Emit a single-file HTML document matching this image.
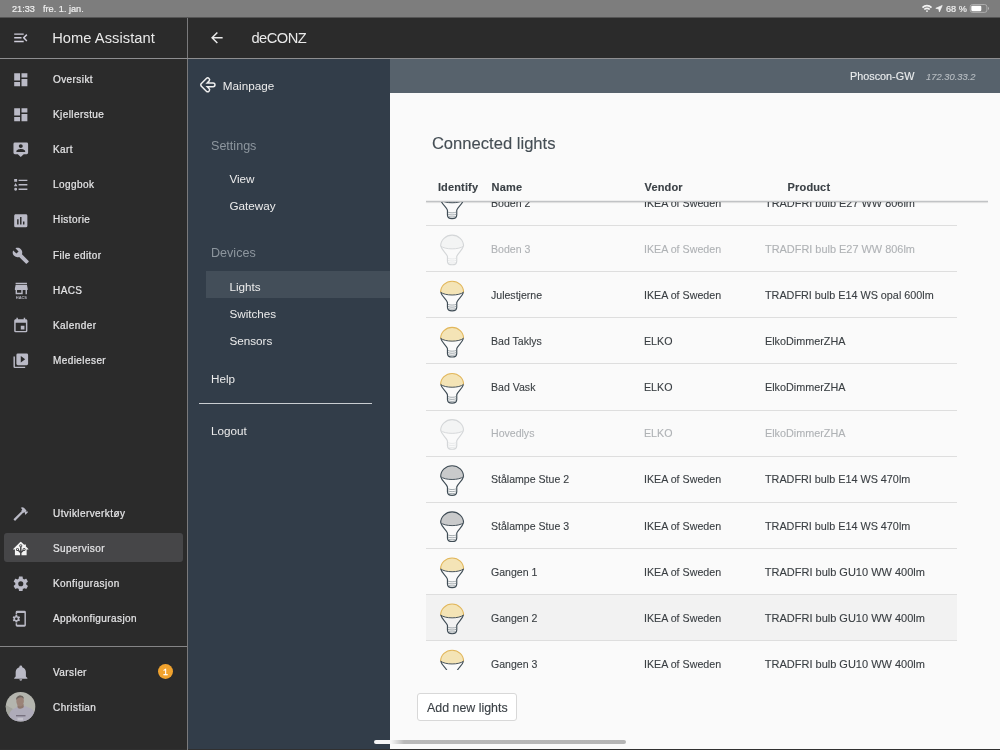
<!DOCTYPE html>
<html lang="nb">
<head>
<meta charset="utf-8">
<title>deCONZ – Home Assistant</title>
<style>
*{box-sizing:border-box;margin:0;padding:0}
html,body{width:1000px;height:750px;overflow:hidden;background:#2b2b2b}
body{font-family:"Liberation Sans",sans-serif;position:relative;-webkit-font-smoothing:antialiased}
.abs{position:absolute}
.t{position:absolute;white-space:nowrap;line-height:1;transform-origin:0 50%;display:inline-block}
#status{left:0;top:0;width:1000px;height:18px;background:linear-gradient(#7d7d7d 0,#7d7d7d 17px,#545454 17px,#545454 18px)}
#status .t{color:#f0f0f0;font-size:9.5px;transform:scaleX(0.965);margin-top:-0.1px;-webkit-text-stroke:0.2px #f0f0f0}
#sidebar{left:0;top:17.5px;width:187px;height:732.5px;background:#2b2b2b}
#vline{left:187px;top:17.5px;width:1px;height:732.5px;background:#7a7a7c}
#hdr{left:188px;top:17.5px;width:812px;height:40.6px;background:#2b2b2b}
#hline{left:0;top:58px;width:1000px;height:1px;background:#8e8e90}
.sb .t{color:#e4e4e6;font-size:10px;left:53px;-webkit-text-stroke:0.22px #e4e4e6;letter-spacing:0.42px;margin-top:1.1px}
.ic{position:absolute;width:17.57px;height:17.57px;left:11.6px;margin-top:0.6px;fill:#babac6}
#sel{left:4.2px;top:533.3px;width:178.8px;height:28.8px;border-radius:3px;background:#464648}
#sdiv{left:0;top:646px;width:187px;height:1px;background:#858587}
#nav{left:188px;top:59px;width:202.3px;height:691px;background:#323d49}
.nv .t{color:#ececec;font-size:11.7px}
.nv .t.h{color:#8d969e;font-size:13.3px}
#navsel{left:205.9px;top:271.1px;width:184.4px;height:26.5px;background:#434e59}
#navline{left:199px;top:402.8px;width:173.2px;height:1px;background:#c9cdd1}
#top{left:390.3px;top:59px;width:609.7px;height:34px;background:#57626c}
#content{left:390.3px;top:93px;width:609.7px;height:657px;background:#fafafa}

.ct .t{color:#3a3f43;font-size:11px;-webkit-text-stroke:0.12px currentColor}
.ct .t.dis{color:#afb2b5}
.row{position:absolute;left:425.6px;width:531.5px;height:1px;background:#dedede}
.bulb{position:absolute;left:439px;width:26px;height:34px;overflow:visible}
#clip{position:absolute;left:390.3px;top:202px;width:609.7px;height:467.6px;overflow:hidden}
#clip>div{position:absolute;left:-390.3px;top:-202px;width:1000px;height:750px}
#thline{left:425.6px;top:201px;width:562.8px;height:1px;background:#c1c3c5;box-shadow:0 1px 1px rgba(0,0,0,.13),0 -1px 0 rgba(0,0,0,.05)}
#btn{left:417.4px;top:693px;width:99.4px;height:28.4px;border:1px solid #d8d8d8;border-radius:3px;background:#fff}
#homebar{left:373.5px;top:740.4px;width:252.6px;height:3.9px;border-radius:2px;background:linear-gradient(90deg,#f6f6f6 0,#f6f6f6 17px,#b9b9b9 30px,#b5b5b5 100%)}
#botline{left:0;top:748.7px;width:1000px;height:1.3px;background:#303030}
</style>
</head>
<body>
<div id="status" class="abs">
  <span class="t" style="left:12px;top:3.7px">21:33</span>
  <span class="t" style="left:43px;top:3.7px">fre. 1. jan.</span>
  <span class="t" style="left:945.8px;top:3.7px">68 %</span>
<svg class="abs" style="left:915px;top:0;width:85px;height:17.5px" viewBox="915 0 85 17.5">
<g fill="none" stroke="#f2f2f2" stroke-linecap="butt">
<path d="M922.500,7.600A6.300,6.300 0 0,1 931.500,7.600" stroke-width="1.700"/>
<path d="M924.300,9.500A3.800,3.800 0 0,1 929.700,9.500" stroke-width="1.600"/>
</g>
<circle cx="927" cy="11.100" r="0.950" fill="#f2f2f2"/>
<path d="M942.200,5.500L935.800,8.300L938.800,8.900L939.400,11.900Z" fill="#f2f2f2" stroke="#f2f2f2" stroke-width="0.700" stroke-linejoin="round"/>
<rect x="970.200" y="4.500" width="16.700" height="7.900" rx="2.300" fill="none" stroke="#b9b9b9" stroke-width="0.800"/>
<rect x="971.300" y="5.700" width="10" height="5.500" rx="1.100" fill="#ffffff"/>
<path d="M988,7.100C989.300,7.500 989.300,9.600 988,10Z" fill="#b9b9b9"/>
</svg>
</div>
<div id="sidebar" class="abs"></div>
<div class="sb">
<div id="sel" class="abs"></div>
<div id="sdiv" class="abs"></div>
<svg class="ic" style="top:28.8px;fill:#d0cedb" viewBox="0 0 24 24"><path d="M21,15.61L19.59,17L14.58,12L19.59,7L21,8.39L17.44,12L21,15.61M3,6H16V8H3V6M3,13V11H13V13H3M3,18V16H16V18H3Z"/></svg>
<span class="t" id="hatitle" style="left:52.2px;top:29.9px;font-size:14.7px;-webkit-text-stroke:0;letter-spacing:0.04px;color:#e9e9e9">Home Assistant</span>
<svg class="ic" style="top:70.42px" viewBox="0 0 24 24"><path d="M13,3V9H21V3M13,21H21V11H13M3,21H11V15H3M3,13H11V3H3V13Z"/></svg>
<span class="t" style="top:73.90px">Oversikt</span>
<svg class="ic" style="top:105.52px" viewBox="0 0 24 24"><path d="M13,3V9H21V3M13,21H21V11H13M3,21H11V15H3M3,13H11V3H3V13Z"/></svg>
<span class="t" style="top:109.00px">Kjellerstue</span>
<svg class="ic" style="top:140.72px" viewBox="0 0 24 24"><path d="M20,2H4A2,2 0 0,0 2,4V16A2,2 0 0,0 4,18H8L12,22L16,18H20A2,2 0 0,0 22,16V4A2,2 0 0,0 20,2M12,4.3C13.5,4.3 14.7,5.5 14.7,7C14.7,8.5 13.5,9.7 12,9.7C10.5,9.7 9.3,8.5 9.3,7C9.3,5.5 10.5,4.3 12,4.3M18,15H6V14.1C6,12.1 10,11 12,11C14,11 18,12.1 18,14.1V15Z"/></svg>
<span class="t" style="top:144.20px">Kart</span>
<svg class="ic" style="top:175.82px" viewBox="0 0 24 24"><path d="M5,9.5L7.5,14H2.5L5,9.5M3,4H7V8H3V4M5,20A2,2 0 0,0 7,18A2,2 0 0,0 5,16A2,2 0 0,0 3,18A2,2 0 0,0 5,20M9,5V7H21V5H9M9,19H21V17H9V19M9,13H21V11H9V13Z"/></svg>
<span class="t" style="top:179.30px">Loggbok</span>
<svg class="ic" style="top:210.92px" viewBox="0 0 24 24"><path d="M17,17H15V13H17M13,17H11V7H13M9,17H7V10H9M19,3H5C3.89,3 3,3.89 3,5V19A2,2 0 0,0 5,21H19A2,2 0 0,0 21,19V5C21,3.89 20.1,3 19,3Z"/></svg>
<span class="t" style="top:214.40px">Historie</span>
<svg class="ic" style="top:246.12px" viewBox="0 0 24 24"><path d="M22.7,19L13.6,9.9C14.5,7.6 14,4.9 12.1,3C10.1,1 7.1,0.6 4.7,1.7L9,6L6,9L1.6,4.7C0.4,7.1 0.9,10.1 2.9,12.1C4.8,14 7.5,14.5 9.8,13.6L18.9,22.7C19.3,23.1 19.9,23.1 20.3,22.7L22.6,20.4C23.1,20 23.1,19.3 22.7,19Z"/></svg>
<span class="t" style="top:249.60px">File editor</span>
<svg class="ic" style="top:281.22px" viewBox="0 0 24 24"><g transform="translate(1.050,-2.800) scale(0.970)"><path d="M12,18H6V14H12M21,14V12L20,7H4L3,12V14H4V20H14V14H18V20H20V14M20,4H4V6H20V4Z"/></g><text x="12.850" y="22.900" text-anchor="middle" font-family="Liberation Sans, sans-serif" font-weight="bold" font-size="5.400" textLength="15.400" lengthAdjust="spacingAndGlyphs">HACS</text></svg>
<span class="t" style="top:284.70px">HACS</span>
<svg class="ic" style="top:316.32px" viewBox="0 0 24 24"><path d="M19,19H5V8H19M16,1V3H8V1H6V3H5C3.89,3 3,3.89 3,5V19A2,2 0 0,0 5,21H19A2,2 0 0,0 21,19V5C21,3.89 20.1,3 19,3H18V1M17,12H12V17H17V12Z"/></svg>
<span class="t" style="top:319.80px">Kalender</span>
<svg class="ic" style="top:351.52px" viewBox="0 0 24 24"><path d="M4,6H2V20A2,2 0 0,0 4,22H18V20H4V6M20,2H8A2,2 0 0,0 6,4V16A2,2 0 0,0 8,18H20A2,2 0 0,0 22,16V4A2,2 0 0,0 20,2M12,14.5V5.5L18,10L12,14.5Z"/></svg>
<span class="t" style="top:355.00px">Medieleser</span>
<svg class="ic" style="top:504.12px" viewBox="0 0 24 24"><path d="M2,19.63L13.43,8.2L12.72,7.5L14.14,6.07L12,3.89C13.2,2.7 15.09,2.7 16.27,3.89L19.87,7.5L18.45,8.91H21.29L22,9.62L18.45,13.21L17.74,12.5V9.62L16.27,11.04L15.56,10.33L4.13,21.76L2,19.63Z"/></svg>
<span class="t" style="top:507.60px">Utviklerverktøy</span>
<svg class="ic" style="top:539.22px;fill:#f4f4f4" viewBox="0 0 24 24"><path d="M21.8,13H20V21H13V17.67L15.79,14.88L16.5,15C17.66,15 18.6,14.06 18.6,12.9C18.6,11.74 17.66,10.8 16.5,10.8A2.1,2.1 0 0,0 14.4,12.9L14.5,13.61L13,15.13V9.65C13.66,9.29 14.1,8.6 14.1,7.8A2.1,2.1 0 0,0 12,5.7A2.1,2.1 0 0,0 9.9,7.8C9.9,8.6 10.34,9.29 11,9.65V15.13L9.5,13.61L9.6,12.9A2.1,2.1 0 0,0 7.5,10.8A2.1,2.1 0 0,0 5.4,12.9A2.1,2.1 0 0,0 7.5,15L8.21,14.88L11,17.67V21H4V13H2.25C1.83,13 1.42,13 1.42,12.79C1.43,12.57 1.85,12.15 2.28,11.72L11,3C11.33,2.67 11.67,2.33 12,2.33C12.33,2.33 12.67,2.67 13,3L17,7V6H19V9L21.78,11.78C22.18,12.18 22.59,12.59 22.6,12.8C22.6,13 22.2,13 21.8,13M7.5,12A0.9,0.9 0 0,1 8.4,12.9A0.9,0.9 0 0,1 7.5,13.8A0.9,0.9 0 0,1 6.6,12.9A0.9,0.9 0 0,1 7.5,12M16.5,12C17,12 17.4,12.4 17.4,12.9C17.4,13.4 17,13.8 16.5,13.8A0.9,0.9 0 0,1 15.6,12.9A0.9,0.9 0 0,1 16.5,12M12,6.9C12.5,6.9 12.9,7.3 12.9,7.8C12.9,8.3 12.5,8.7 12,8.7C11.5,8.7 11.1,8.3 11.1,7.8C11.1,7.3 11.5,6.9 12,6.9Z"/></svg>
<span class="t" style="top:542.70px">Supervisor</span>
<svg class="ic" style="top:574.32px" viewBox="0 0 24 24"><path d="M12,15.5A3.5,3.5 0 0,1 8.5,12A3.5,3.5 0 0,1 12,8.5A3.5,3.5 0 0,1 15.5,12A3.5,3.5 0 0,1 12,15.5M19.43,12.97C19.47,12.65 19.5,12.33 19.5,12C19.5,11.67 19.47,11.34 19.43,11L21.54,9.37C21.73,9.22 21.78,8.95 21.66,8.73L19.66,5.27C19.54,5.05 19.27,4.96 19.05,5.05L16.56,6.05C16.04,5.66 15.5,5.32 14.87,5.07L14.5,2.42C14.46,2.18 14.25,2 14,2H10C9.75,2 9.54,2.18 9.5,2.42L9.13,5.07C8.5,5.32 7.96,5.66 7.44,6.05L4.95,5.05C4.73,4.96 4.46,5.05 4.34,5.27L2.34,8.73C2.21,8.95 2.27,9.22 2.46,9.37L4.57,11C4.53,11.34 4.5,11.67 4.5,12C4.5,12.33 4.53,12.65 4.57,12.97L2.46,14.63C2.27,14.78 2.21,15.05 2.34,15.27L4.34,18.73C4.46,18.95 4.73,19.03 4.95,18.95L7.44,17.94C7.96,18.34 8.5,18.68 9.13,18.93L9.5,21.58C9.54,21.82 9.75,22 10,22H14C14.25,22 14.46,21.82 14.5,21.58L14.87,18.93C15.5,18.67 16.04,18.34 16.56,17.94L19.05,18.95C19.27,19.03 19.54,18.95 19.66,18.73L21.66,15.27C21.78,15.05 21.73,14.78 21.54,14.63L19.43,12.97Z"/></svg>
<span class="t" style="top:577.80px">Konfigurasjon</span>
<svg class="ic" style="top:609.52px" viewBox="0 0 24 24"><path d="M9.82,12.5C9.84,12.33 9.86,12.17 9.86,12C9.86,11.83 9.84,11.67 9.82,11.5L10.9,10.69C11,10.62 11,10.5 10.96,10.37L9.93,8.64C9.87,8.53 9.73,8.5 9.62,8.53L8.34,9.03C8.07,8.83 7.78,8.67 7.47,8.54L7.27,7.21C7.27,7.09 7.16,7 7.03,7H5C4.85,7 4.74,7.09 4.72,7.21L4.5,8.53C4.21,8.65 3.92,8.83 3.65,9L2.37,8.5C2.25,8.47 2.12,8.5 2.06,8.63L1.03,10.36C0.97,10.5 1,10.61 1.1,10.69L2.18,11.5C2.16,11.67 2.15,11.84 2.15,12C2.15,12.17 2.17,12.33 2.19,12.5L1.1,13.32C1,13.39 1,13.53 1.04,13.64L2.07,15.37C2.13,15.5 2.27,15.5 2.38,15.5L3.66,14.97C3.93,15.18 4.22,15.34 4.53,15.47L4.73,16.79C4.75,16.91 4.86,17 5,17H7.04C7.17,17 7.28,16.91 7.3,16.79L7.5,15.47C7.8,15.35 8.09,15.17 8.35,14.97L9.62,15.5C9.73,15.5 9.87,15.5 9.93,15.37L10.96,13.64C11,13.53 11,13.4 10.9,13.32L9.82,12.5M6,13.75C5,13.75 4.2,12.97 4.2,12C4.2,11.03 5,10.25 6,10.25C7,10.25 7.8,11.03 7.8,12C7.8,12.97 7,13.75 6,13.75M17,1H7A2,2 0 0,0 5,3V6H7V4H17V20H7V18H5V21A2,2 0 0,0 7,23H17A2,2 0 0,0 19,21V3A2,2 0 0,0 17,1Z"/></svg>
<span class="t" style="top:613.00px">Appkonfigurasjon</span>
<svg class="ic" style="top:663.12px" viewBox="0 0 24 24"><path d="M21,19V20H3V19L5,17V11C5,7.9 7.03,5.17 10,4.29C10,4.19 10,4.1 10,4A2,2 0 0,1 12,2A2,2 0 0,1 14,4C14,4.1 14,4.19 14,4.29C16.97,5.17 19,7.9 19,11V17L21,19M14,21A2,2 0 0,1 12,23A2,2 0 0,1 10,21"/></svg>
<span class="t" style="top:666.60px">Varsler</span>
<span class="t" style="top:701.70px">Christian</span>
<div class="abs" style="left:158.1px;top:664.3px;width:14.8px;height:14.8px;border-radius:50%;background:#f0a22e"></div>
<span class="t" style="left:163.1px;top:667.4px;font-size:8.8px;color:#fff;-webkit-text-stroke:0.3px #fff;letter-spacing:0">1</span>
<svg class="abs" style="left:0;top:686px;width:40px;height:40px" viewBox="0 0 40 40"><defs><clipPath id="avc"><circle cx="20.550" cy="20.700" r="14.750"/></clipPath><filter id="avb" x="-10%" y="-10%" width="120%" height="120%"><feGaussianBlur stdDeviation="0.550"/></filter></defs><g clip-path="url(#avc)"><rect width="40" height="40" fill="#b4b5ae"/><g filter="url(#avb)"><path d="M4,18L13,23L9,30L4,28Z" fill="#a3a49d"/><path d="M8.500,40C8,30 9.500,25.500 12.500,23.500C15,22 17,21.200 18,20.500L23.500,19.500C26,20.500 30,21.500 32.500,23.500C35,26 35,32 34,40Z" fill="#aeabb9"/><path d="M17.300,19.500L17.800,22C19.500,23.300 22.500,22.800 23.800,21L23.500,18Z" fill="#8e786d"/><ellipse cx="20.100" cy="15" rx="3.800" ry="5.500" fill="#9b8378"/><path d="M16.200,14C15.500,8.500 24,7.800 24,13C22.500,10.500 18.500,10.300 16.200,14Z" fill="#6b625d"/><rect x="16" y="29" width="9.500" height="1.400" fill="#77717f"/><rect x="17.500" y="31.800" width="5.500" height="2.500" fill="#c4c2cc"/></g></g></svg>
</div>
<div id="hdr" class="abs"></div>
<svg class="ic" style="left:208.2px;top:28.7px;fill:#e9e9e9" viewBox="0 0 24 24"><path d="M20,11V13H8L13.5,18.5L12.08,19.92L4.16,12L12.08,4.08L13.5,5.5L8,11H20Z"/></svg>
<span class="t" style="left:251.5px;top:31px;font-size:14.7px;letter-spacing:-0.55px;color:#e9e9e9">deCONZ</span>
<div id="nav" class="abs">
</div>
<div class="nv" id="navitems">
<div id="navsel" class="abs"></div>
<div id="navline" class="abs"></div>
<svg class="abs" style="left:194px;top:72px;width:30px;height:26px" viewBox="194 72 30 26"><g fill="none" stroke-linecap="round" stroke-linejoin="round"><path d="M207.700,79.800L202.700,84.830L207.700,89.860M202.700,84.830H213.100" stroke="#f0f0f0" stroke-width="5.200"/><path d="M207.700,79.800L202.700,84.830L207.700,89.860M202.700,84.830H213.100" stroke="#323d49" stroke-width="2.300"/></g></svg>
<span class="t" style="left:222.8px;top:80px">Mainpage</span>
<span class="t h" style="left:211px;top:139px;transform:scaleX(0.945)">Settings</span>
<span class="t" style="left:229.4px;top:173px">View</span>
<span class="t" style="left:229.4px;top:200px">Gateway</span>
<span class="t h" style="left:211px;top:246px;transform:scaleX(0.945)">Devices</span>
<span class="t" style="left:229.4px;top:281px">Lights</span>
<span class="t" style="left:229.4px;top:308px">Switches</span>
<span class="t" style="left:229.4px;top:335px">Sensors</span>
<span class="t" style="left:211px;top:373px">Help</span>
<span class="t" style="left:211px;top:425px">Logout</span>
</div>
<div id="top" class="abs"></div>
<div id="content" class="abs"></div>
<div class="ct">
<span class="t" style="left:849.5px;top:71px;font-size:11.4px;transform:scaleX(0.95);color:#eceeef">Phoscon-GW</span>
<span class="t" style="left:926px;top:71.5px;font-size:9.4px;color:#b7bdc2;font-style:italic">172.30.33.2</span>
<span class="t" id="title" style="left:431.9px;top:135.8px;font-size:16.6px;color:#454e55">Connected lights</span>
<span class="t th" style="left:437.9px;top:181.6px;font-weight:bold;letter-spacing:0.15px;color:#3b4146">Identify</span>
<span class="t th" style="left:491.6px;top:181.6px;font-weight:bold;letter-spacing:0.15px;color:#3b4146">Name</span>
<span class="t th" style="left:644.6px;top:181.6px;font-weight:bold;letter-spacing:0.15px;color:#3b4146">Vendor</span>
<span class="t th" style="left:787.6px;top:181.6px;font-weight:bold;letter-spacing:0.15px;color:#3b4146">Product</span>
<div id="thline" class="abs"></div>
<div id="clip"><div>
<div class="row" style="top:225px"></div>
<svg class="bulb" style="top:187px;opacity:1" viewBox="0 -0.64 26 34"><path d="M1.700,12.200C2.800,16.600 7.200,19.200 8.450,22.600V27.400C8.450,29.900 10.600,31 13.100,31S17.750,29.900 17.750,27.400V22.600C19,19.200 23.400,16.600 24.500,12.200" fill="none" stroke="#3f4c55" stroke-width="1.150" stroke-linejoin="round"/><path d="M9,24.500C11.200,25.400 15,25.400 17.200,24.500M9,26.600C11.200,27.500 15,27.500 17.200,26.600M9.300,28.700C11.300,29.500 14.900,29.500 16.900,28.700" fill="none" stroke="#99a1a6" stroke-width="0.900"/><path d="M1.650,12.200A11.450,10.900 0 0,1 24.550,12.200C20.500,16.100 5.700,16.100 1.650,12.200Z" fill="#c9cacb"/><path d="M1.650,12.300A11.450,10.950 0 0,1 24.550,12.300" fill="none" stroke="#3f4c55" stroke-width="1.100"/><path d="M1.650,12.200C5.700,16.100 20.500,16.100 24.550,12.200" fill="none" stroke="#3f4c55" stroke-width="0.950"/></svg>
<span class="t" style="left:491.3px;top:198.00px;transform:scaleX(0.96)">Boden 2</span>
<span class="t" style="left:644.1px;top:198.00px;transform:scaleX(0.97)">IKEA of Sweden</span>
<span class="t" style="left:764.8px;top:198.00px;transform:scaleX(0.993)">TRADFRI bulb E27 WW 806lm</span>
<div class="row" style="top:271px"></div>
<svg class="bulb" style="top:233px;opacity:0.2" viewBox="0 -0.76 26 34"><path d="M1.700,12.200C2.800,16.600 7.200,19.200 8.450,22.600V27.400C8.450,29.900 10.600,31 13.100,31S17.750,29.900 17.750,27.400V22.600C19,19.200 23.400,16.600 24.500,12.200" fill="none" stroke="#3f4c55" stroke-width="1.150" stroke-linejoin="round"/><path d="M9,24.500C11.200,25.400 15,25.400 17.200,24.500M9,26.600C11.200,27.500 15,27.500 17.200,26.600M9.300,28.700C11.300,29.500 14.900,29.500 16.900,28.700" fill="none" stroke="#99a1a6" stroke-width="0.900"/><path d="M1.650,12.200A11.450,10.900 0 0,1 24.550,12.200C20.500,16.100 5.700,16.100 1.650,12.200Z" fill="#dcdddd"/><path d="M1.650,12.300A11.450,10.950 0 0,1 24.550,12.300" fill="none" stroke="#3f4c55" stroke-width="1.100"/><path d="M1.650,12.200C5.700,16.100 20.500,16.100 24.550,12.200" fill="none" stroke="#3f4c55" stroke-width="0.950"/></svg>
<span class="t dis" style="left:491.3px;top:244.00px;transform:scaleX(0.96)">Boden 3</span>
<span class="t dis" style="left:644.1px;top:244.00px;transform:scaleX(0.97)">IKEA of Sweden</span>
<span class="t dis" style="left:764.8px;top:244.00px;transform:scaleX(0.993)">TRADFRI bulb E27 WW 806lm</span>
<div class="row" style="top:317px"></div>
<svg class="bulb" style="top:279px;opacity:1" viewBox="0 -0.88 26 34"><path d="M1.700,12.200C2.800,16.600 7.200,19.200 8.450,22.600V27.400C8.450,29.900 10.600,31 13.100,31S17.750,29.900 17.750,27.400V22.600C19,19.200 23.400,16.600 24.500,12.200" fill="none" stroke="#3f4c55" stroke-width="1.150" stroke-linejoin="round"/><path d="M9,24.500C11.200,25.400 15,25.400 17.200,24.500M9,26.600C11.200,27.500 15,27.500 17.200,26.600M9.300,28.700C11.300,29.500 14.900,29.500 16.900,28.700" fill="none" stroke="#99a1a6" stroke-width="0.900"/><path d="M1.650,12.200A11.450,10.900 0 0,1 24.550,12.200C20.500,16.100 5.700,16.100 1.650,12.200Z" fill="#f4e4b6"/><path d="M1.650,12.300A11.450,10.950 0 0,1 24.550,12.300" fill="none" stroke="#e2b75c" stroke-width="1.100"/><path d="M1.650,12.200C5.700,16.100 20.500,16.100 24.550,12.200" fill="none" stroke="#3f4c55" stroke-width="0.950"/></svg>
<span class="t" style="left:491.3px;top:290.00px;transform:scaleX(0.96)">Julestjerne</span>
<span class="t" style="left:644.1px;top:290.00px;transform:scaleX(0.97)">IKEA of Sweden</span>
<span class="t" style="left:764.8px;top:290.00px;transform:scaleX(0.982)">TRADFRI bulb E14 WS opal 600lm</span>
<div class="row" style="top:363px"></div>
<svg class="bulb" style="top:326px;opacity:1" viewBox="0 -0.00 26 34"><path d="M1.700,12.200C2.800,16.600 7.200,19.200 8.450,22.600V27.400C8.450,29.900 10.600,31 13.100,31S17.750,29.900 17.750,27.400V22.600C19,19.200 23.400,16.600 24.500,12.200" fill="none" stroke="#3f4c55" stroke-width="1.150" stroke-linejoin="round"/><path d="M9,24.500C11.200,25.400 15,25.400 17.200,24.500M9,26.600C11.200,27.500 15,27.500 17.200,26.600M9.300,28.700C11.300,29.500 14.900,29.500 16.900,28.700" fill="none" stroke="#99a1a6" stroke-width="0.900"/><path d="M1.650,12.200A11.450,10.900 0 0,1 24.550,12.200C20.500,16.100 5.700,16.100 1.650,12.200Z" fill="#f4e4b6"/><path d="M1.650,12.300A11.450,10.950 0 0,1 24.550,12.300" fill="none" stroke="#e2b75c" stroke-width="1.100"/><path d="M1.650,12.200C5.700,16.100 20.500,16.100 24.550,12.200" fill="none" stroke="#3f4c55" stroke-width="0.950"/></svg>
<span class="t" style="left:491.3px;top:336.00px;transform:scaleX(0.96)">Bad Taklys</span>
<span class="t" style="left:644.1px;top:336.00px;transform:scaleX(0.97)">ELKO</span>
<span class="t" style="left:764.8px;top:336.00px;transform:scaleX(0.982)">ElkoDimmerZHA</span>
<div class="row" style="top:410px"></div>
<svg class="bulb" style="top:372px;opacity:1" viewBox="0 -0.12 26 34"><path d="M1.700,12.200C2.800,16.600 7.200,19.200 8.450,22.600V27.400C8.450,29.900 10.600,31 13.100,31S17.750,29.900 17.750,27.400V22.600C19,19.200 23.400,16.600 24.500,12.200" fill="none" stroke="#3f4c55" stroke-width="1.150" stroke-linejoin="round"/><path d="M9,24.500C11.200,25.400 15,25.400 17.200,24.500M9,26.600C11.200,27.500 15,27.500 17.200,26.600M9.300,28.700C11.300,29.500 14.900,29.500 16.900,28.700" fill="none" stroke="#99a1a6" stroke-width="0.900"/><path d="M1.650,12.200A11.450,10.900 0 0,1 24.550,12.200C20.500,16.100 5.700,16.100 1.650,12.200Z" fill="#f4e4b6"/><path d="M1.650,12.300A11.450,10.950 0 0,1 24.550,12.300" fill="none" stroke="#e2b75c" stroke-width="1.100"/><path d="M1.650,12.200C5.700,16.100 20.500,16.100 24.550,12.200" fill="none" stroke="#3f4c55" stroke-width="0.950"/></svg>
<span class="t" style="left:491.3px;top:382.00px;transform:scaleX(0.96)">Bad Vask</span>
<span class="t" style="left:644.1px;top:382.00px;transform:scaleX(0.97)">ELKO</span>
<span class="t" style="left:764.8px;top:382.00px;transform:scaleX(0.982)">ElkoDimmerZHA</span>
<div class="row" style="top:456px"></div>
<svg class="bulb" style="top:418px;opacity:0.2" viewBox="0 -0.24 26 34"><path d="M1.700,12.200C2.800,16.600 7.200,19.200 8.450,22.600V27.400C8.450,29.900 10.600,31 13.100,31S17.750,29.900 17.750,27.400V22.600C19,19.200 23.400,16.600 24.500,12.200" fill="none" stroke="#3f4c55" stroke-width="1.150" stroke-linejoin="round"/><path d="M9,24.500C11.200,25.400 15,25.400 17.200,24.500M9,26.600C11.200,27.500 15,27.500 17.200,26.600M9.300,28.700C11.300,29.500 14.900,29.500 16.900,28.700" fill="none" stroke="#99a1a6" stroke-width="0.900"/><path d="M1.650,12.200A11.450,10.900 0 0,1 24.550,12.200C20.500,16.100 5.700,16.100 1.650,12.200Z" fill="#dcdddd"/><path d="M1.650,12.300A11.450,10.950 0 0,1 24.550,12.300" fill="none" stroke="#3f4c55" stroke-width="1.100"/><path d="M1.650,12.200C5.700,16.100 20.500,16.100 24.550,12.200" fill="none" stroke="#3f4c55" stroke-width="0.950"/></svg>
<span class="t dis" style="left:491.3px;top:428.00px;transform:scaleX(0.96)">Hovedlys</span>
<span class="t dis" style="left:644.1px;top:428.00px;transform:scaleX(0.97)">ELKO</span>
<span class="t dis" style="left:764.8px;top:428.00px;transform:scaleX(0.982)">ElkoDimmerZHA</span>
<div class="row" style="top:502px"></div>
<svg class="bulb" style="top:464px;opacity:1" viewBox="0 -0.36 26 34"><path d="M1.700,12.200C2.800,16.600 7.200,19.200 8.450,22.600V27.400C8.450,29.900 10.600,31 13.100,31S17.750,29.900 17.750,27.400V22.600C19,19.200 23.400,16.600 24.500,12.200" fill="none" stroke="#3f4c55" stroke-width="1.150" stroke-linejoin="round"/><path d="M9,24.500C11.200,25.400 15,25.400 17.200,24.500M9,26.600C11.200,27.500 15,27.500 17.200,26.600M9.300,28.700C11.300,29.500 14.900,29.500 16.900,28.700" fill="none" stroke="#99a1a6" stroke-width="0.900"/><path d="M1.650,12.200A11.450,10.900 0 0,1 24.550,12.200C20.500,16.100 5.700,16.100 1.650,12.200Z" fill="#c9cacb"/><path d="M1.650,12.300A11.450,10.950 0 0,1 24.550,12.300" fill="none" stroke="#3f4c55" stroke-width="1.100"/><path d="M1.650,12.200C5.700,16.100 20.500,16.100 24.550,12.200" fill="none" stroke="#3f4c55" stroke-width="0.950"/></svg>
<span class="t" style="left:491.3px;top:474.00px;transform:scaleX(0.96)">Stålampe Stue 2</span>
<span class="t" style="left:644.1px;top:474.00px;transform:scaleX(0.97)">IKEA of Sweden</span>
<span class="t" style="left:764.8px;top:474.00px;transform:scaleX(0.982)">TRADFRI bulb E14 WS 470lm</span>
<div class="row" style="top:548px"></div>
<svg class="bulb" style="top:510px;opacity:1" viewBox="0 -0.48 26 34"><path d="M1.700,12.200C2.800,16.600 7.200,19.200 8.450,22.600V27.400C8.450,29.900 10.600,31 13.100,31S17.750,29.900 17.750,27.400V22.600C19,19.200 23.400,16.600 24.500,12.200" fill="none" stroke="#3f4c55" stroke-width="1.150" stroke-linejoin="round"/><path d="M9,24.500C11.200,25.400 15,25.400 17.200,24.500M9,26.600C11.200,27.500 15,27.500 17.200,26.600M9.300,28.700C11.300,29.500 14.900,29.500 16.900,28.700" fill="none" stroke="#99a1a6" stroke-width="0.900"/><path d="M1.650,12.200A11.450,10.900 0 0,1 24.550,12.200C20.500,16.100 5.700,16.100 1.650,12.200Z" fill="#c9cacb"/><path d="M1.650,12.300A11.450,10.950 0 0,1 24.550,12.300" fill="none" stroke="#3f4c55" stroke-width="1.100"/><path d="M1.650,12.200C5.700,16.100 20.500,16.100 24.550,12.200" fill="none" stroke="#3f4c55" stroke-width="0.950"/></svg>
<span class="t" style="left:491.3px;top:521.00px;transform:scaleX(0.96)">Stålampe Stue 3</span>
<span class="t" style="left:644.1px;top:521.00px;transform:scaleX(0.97)">IKEA of Sweden</span>
<span class="t" style="left:764.8px;top:521.00px;transform:scaleX(0.982)">TRADFRI bulb E14 WS 470lm</span>
<div class="row" style="top:594px"></div>
<svg class="bulb" style="top:556px;opacity:1" viewBox="0 -0.60 26 34"><path d="M1.700,12.200C2.800,16.600 7.200,19.200 8.450,22.600V27.400C8.450,29.900 10.600,31 13.100,31S17.750,29.900 17.750,27.400V22.600C19,19.200 23.400,16.600 24.500,12.200" fill="none" stroke="#3f4c55" stroke-width="1.150" stroke-linejoin="round"/><path d="M9,24.500C11.200,25.400 15,25.400 17.200,24.500M9,26.600C11.200,27.500 15,27.500 17.200,26.600M9.300,28.700C11.300,29.500 14.900,29.500 16.900,28.700" fill="none" stroke="#99a1a6" stroke-width="0.900"/><path d="M1.650,12.200A11.450,10.900 0 0,1 24.550,12.200C20.500,16.100 5.700,16.100 1.650,12.200Z" fill="#f4e4b6"/><path d="M1.650,12.300A11.450,10.950 0 0,1 24.550,12.300" fill="none" stroke="#e2b75c" stroke-width="1.100"/><path d="M1.650,12.200C5.700,16.100 20.500,16.100 24.550,12.200" fill="none" stroke="#3f4c55" stroke-width="0.950"/></svg>
<span class="t" style="left:491.3px;top:567.00px;transform:scaleX(0.96)">Gangen 1</span>
<span class="t" style="left:644.1px;top:567.00px;transform:scaleX(0.97)">IKEA of Sweden</span>
<span class="t" style="left:764.8px;top:567.00px;transform:scaleX(1.0)">TRADFRI bulb GU10 WW 400lm</span>
<div class="abs" style="left:425.6px;width:531.5px;top:595px;height:45px;background:#f2f2f2"></div>
<div class="row" style="top:640px"></div>
<svg class="bulb" style="top:602px;opacity:1" viewBox="0 -0.72 26 34"><path d="M1.700,12.200C2.800,16.600 7.200,19.200 8.450,22.600V27.400C8.450,29.900 10.600,31 13.100,31S17.750,29.900 17.750,27.400V22.600C19,19.200 23.400,16.600 24.500,12.200" fill="none" stroke="#3f4c55" stroke-width="1.150" stroke-linejoin="round"/><path d="M9,24.500C11.200,25.400 15,25.400 17.200,24.500M9,26.600C11.200,27.500 15,27.500 17.200,26.600M9.300,28.700C11.300,29.500 14.900,29.500 16.900,28.700" fill="none" stroke="#99a1a6" stroke-width="0.900"/><path d="M1.650,12.200A11.450,10.900 0 0,1 24.550,12.200C20.500,16.100 5.700,16.100 1.650,12.200Z" fill="#f4e4b6"/><path d="M1.650,12.300A11.450,10.950 0 0,1 24.550,12.300" fill="none" stroke="#e2b75c" stroke-width="1.100"/><path d="M1.650,12.200C5.700,16.100 20.500,16.100 24.550,12.200" fill="none" stroke="#3f4c55" stroke-width="0.950"/></svg>
<span class="t" style="left:491.3px;top:613.00px;transform:scaleX(0.96)">Gangen 2</span>
<span class="t" style="left:644.1px;top:613.00px;transform:scaleX(0.97)">IKEA of Sweden</span>
<span class="t" style="left:764.8px;top:613.00px;transform:scaleX(1.0)">TRADFRI bulb GU10 WW 400lm</span>
<div class="row" style="top:686px"></div>
<svg class="bulb" style="top:648px;opacity:1" viewBox="0 -0.84 26 34"><path d="M1.700,12.200C2.800,16.600 7.200,19.200 8.450,22.600V27.400C8.450,29.900 10.600,31 13.100,31S17.750,29.900 17.750,27.400V22.600C19,19.200 23.400,16.600 24.500,12.200" fill="none" stroke="#3f4c55" stroke-width="1.150" stroke-linejoin="round"/><path d="M9,24.500C11.200,25.400 15,25.400 17.200,24.500M9,26.600C11.200,27.500 15,27.500 17.200,26.600M9.300,28.700C11.300,29.500 14.900,29.500 16.900,28.700" fill="none" stroke="#99a1a6" stroke-width="0.900"/><path d="M1.650,12.200A11.450,10.900 0 0,1 24.550,12.200C20.500,16.100 5.700,16.100 1.650,12.200Z" fill="#f4e4b6"/><path d="M1.650,12.300A11.450,10.950 0 0,1 24.550,12.300" fill="none" stroke="#e2b75c" stroke-width="1.100"/><path d="M1.650,12.200C5.700,16.100 20.500,16.100 24.550,12.200" fill="none" stroke="#3f4c55" stroke-width="0.950"/></svg>
<span class="t" style="left:491.3px;top:659.00px;transform:scaleX(0.96)">Gangen 3</span>
<span class="t" style="left:644.1px;top:659.00px;transform:scaleX(0.97)">IKEA of Sweden</span>
<span class="t" style="left:764.8px;top:659.00px;transform:scaleX(1.0)">TRADFRI bulb GU10 WW 400lm</span>
</div></div>
<div id="btn" class="abs"></div>
<span class="t" style="left:427px;top:702px;font-size:12.4px;color:#3b4146">Add new lights</span>
<div id="homebar" class="abs"></div>
<div id="botline" class="abs"></div>
</div>
<div id="vline" class="abs"></div>
<div id="hline" class="abs"></div>
</body>
</html>
